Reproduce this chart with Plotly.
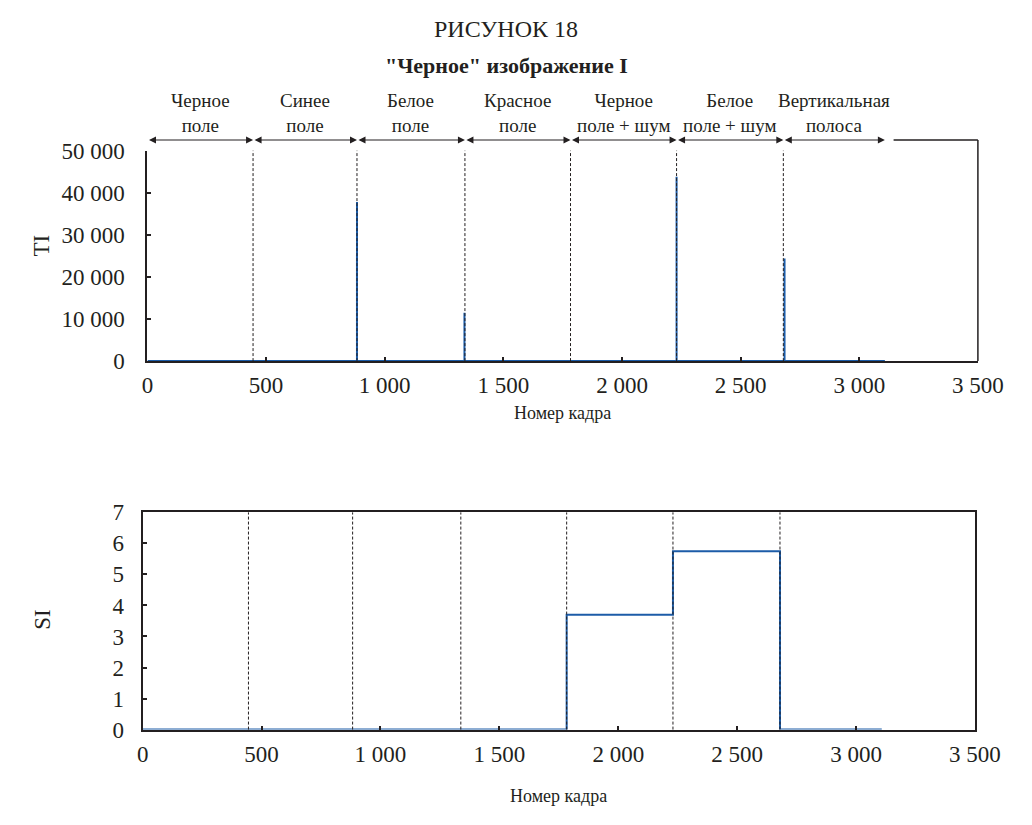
import plotly.graph_objects as go

# ---- data ----
seg_line1 = ["Черное", "Синее", "Белое", "Красное", "Черное", "Белое", "Вертикальная"]
seg_line2 = ["поле", "поле", "поле", "поле", "поле + шум", "поле + шум", "полоса"]
seg_bounds = [0, 445, 883, 1338, 1783, 2230, 2680, 3108]
spike_frames = [883, 1336, 2230, 2685]
spike_ti = [37800, 11500, 43800, 24400]
seg_si = [0, 0, 0, 0, 3.7, 5.75, 0]
x_ticks = [0, 500, 1000, 1500, 2000, 2500, 3000, 3500]
ti_ticks = [0, 10000, 20000, 30000, 40000, 50000]
si_ticks = [0, 1, 2, 3, 4, 5, 6, 7]

BLUE = "#1c5ca8"
INK = "#231f20"
FONT = "Liberation Serif"
W, H = 1032, 825

def px_x(p):
    return p / W

def px_y(p):
    return 1 - p / H

X1 = (px_x(146), px_x(1003))
X2 = (px_x(141), px_x(1000))

# TI line built from spikes
ti_x, ti_y = [0], [0]
for f, v in zip(spike_frames, spike_ti):
    ti_x += [f, f, f]
    ti_y += [0, v, 0]
ti_x.append(seg_bounds[-1])
ti_y.append(0)

si_x = list(seg_bounds)
si_y = list(seg_si) + [seg_si[-1]]

fig = go.Figure()
fig.add_trace(go.Scatter(x=ti_x, y=ti_y, mode="lines", line=dict(color=BLUE, width=2),
                         xaxis="x", yaxis="y", showlegend=False, cliponaxis=False))
fig.add_trace(go.Scatter(x=si_x, y=si_y, mode="lines", line=dict(color=BLUE, width=2, shape="hv"),
                         xaxis="x2", yaxis="y2", showlegend=False, cliponaxis=False))

def ax_common(lw):
    return dict(
        showgrid=False, zeroline=False, showline=True, linecolor=INK, linewidth=lw,
        ticks="inside", ticklen=4, tickcolor=INK, tickwidth=1.5,
        tickfont=dict(family=FONT, size=23, color=INK),
    )

fig.update_layout(
    width=W, height=H, margin=dict(l=0, r=0, t=0, b=0, pad=0),
    plot_bgcolor="white", paper_bgcolor="white",
    separators=". ",
    xaxis=dict(domain=list(X1), range=[0, 3500], anchor="y",
               tickvals=x_ticks, tickformat=",d", ticklabelstandoff=3, **ax_common(1.5)),
    yaxis=dict(domain=[px_y(360), px_y(143)], range=[0, 50000], anchor="x",
               tickvals=ti_ticks, tickformat=",d", ticklabelstandoff=16, **ax_common(2)),
    xaxis2=dict(domain=list(X2), range=[0, 3500], anchor="y2",
                tickvals=x_ticks, tickformat=",d", ticklabelstandoff=3, mirror=True, **ax_common(1.5)),
    yaxis2=dict(domain=[px_y(740), px_y(516)], range=[0, 7], anchor="x2",
                tickvals=si_ticks, ticklabelstandoff=12, mirror=True, **ax_common(2)),
)

shapes = []
for b in seg_bounds[1:-1]:
    shapes.append(dict(type="line", xref="x", yref="y domain", x0=b, x1=b, y0=0, y1=1,
                       line=dict(color=INK, width=1, dash="3px,2px")))
    shapes.append(dict(type="line", xref="x2", yref="y2 domain", x0=b, x1=b, y0=0, y1=1,
                       line=dict(color=INK, width=1, dash="3px,2px")))
# partial frame of the upper chart
shapes.append(dict(type="line", xref="paper", yref="paper", x0=px_x(916), x1=px_x(1003),
                   y0=px_y(132), y1=px_y(132), line=dict(color=INK, width=1.5)))
shapes.append(dict(type="line", xref="paper", yref="paper", x0=px_x(1003), x1=px_x(1003),
                   y0=px_y(132), y1=px_y(360), line=dict(color=INK, width=1.5)))
fig.update_layout(shapes=shapes)

ann = []
arrow_y = px_y(132)
for i in range(len(seg_line1)):
    x0, x1 = seg_bounds[i], seg_bounds[i + 1]
    ann.append(dict(x=x1, y=arrow_y, ax=x0, ay=0, xref="x", yref="paper", axref="x", ayref="pixel",
                    text="", showarrow=True, arrowside="end+start", arrowhead=2, arrowsize=1.4,
                    arrowwidth=1, arrowcolor=INK, standoff=0, startstandoff=0))
    xc = (x0 + x1) / 2
    ann.append(dict(x=xc, y=px_y(104), xref="x", yref="paper",
                    text=seg_line1[i] + "<br>" + seg_line2[i], showarrow=False,
                    font=dict(family=FONT, size=19, color=INK), yanchor="middle"))

ann.append(dict(x=0.5, y=px_y(18), xref="paper", yref="paper", text="РИСУНОК 18", showarrow=False,
                yanchor="middle", font=dict(family=FONT, size=24, color=INK)))
ann.append(dict(x=0.5, y=px_y(55), xref="paper", yref="paper", text="<b>\"Черное\" изображение I</b>",
                yanchor="middle", showarrow=False, font=dict(family=FONT, size=22, color=INK)))
ann.append(dict(x=px_x(22), y=px_y(241), xref="paper", yref="paper", text="TI", textangle=-90,
                yanchor="middle", showarrow=False, font=dict(family=FONT, size=23, color=INK)))
ann.append(dict(x=px_x(22), y=px_y(627), xref="paper", yref="paper", text="SI", textangle=-90,
                yanchor="middle", showarrow=False, font=dict(family=FONT, size=23, color=INK)))
ann.append(dict(x=(X1[0] + X1[1]) / 2, y=px_y(414), xref="paper", yref="paper", text="Номер кадра",
                yanchor="middle", showarrow=False, font=dict(family=FONT, size=18, color=INK)))
ann.append(dict(x=(X2[0] + X2[1]) / 2, y=px_y(808), xref="paper", yref="paper", text="Номер кадра",
                yanchor="middle", showarrow=False, font=dict(family=FONT, size=18, color=INK)))
fig.update_layout(annotations=ann)

fig.write_html("out.html")
